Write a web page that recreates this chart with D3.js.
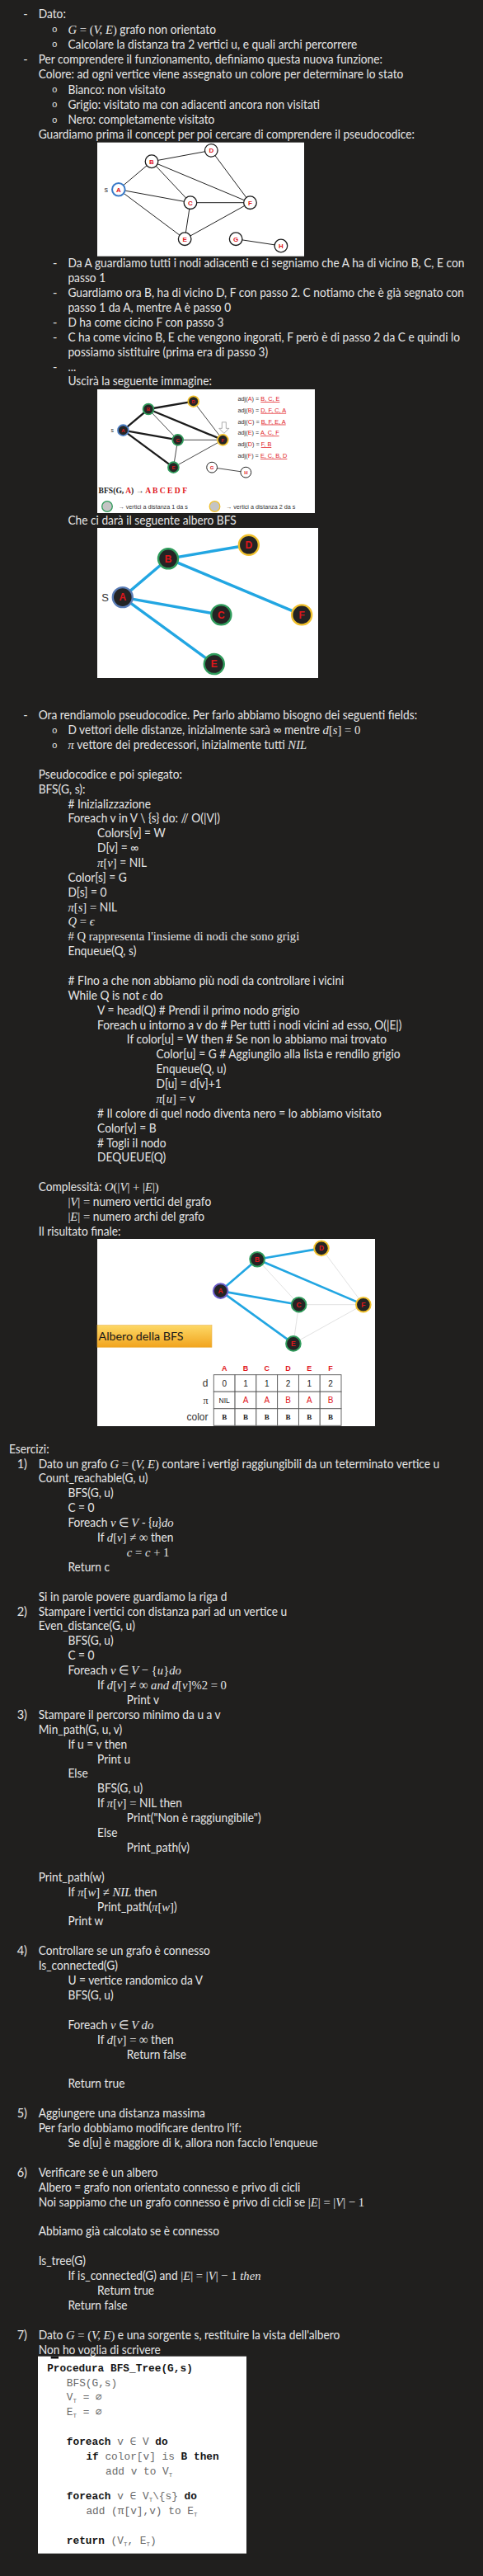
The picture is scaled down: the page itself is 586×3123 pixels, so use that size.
<!DOCTYPE html>
<html>
<head>
<meta charset="utf-8">
<script src="https://cdn.jsdelivr.net/npm/d3@7/dist/d3.min.js"></script>
<style>
  html, body { margin: 0; padding: 0; background: #201f1e; }
  svg { display: block; }
  text, tspan { white-space: pre; }
</style>
</head>
<body>
<div id="page"></div>
<script>
// graph of the example
const vertices = ["A", "B", "C", "D", "E", "F", "G", "H"]
const graphEdges = [["A","B"],["A","C"],["A","E"],["B","C"],["B","D"],["B","F"],["C","E"],["C","F"],["D","F"],["E","F"],["G","H"]]
const treeEdges = [["A","B"],["A","C"],["A","E"],["B","D"],["B","F"]]
const bfsOrder = ["A", "B", "C", "E", "D", "F"]
const adjacency = [["A", ["B","C","E"]], ["B", ["D","F","C","A"]], ["C", ["B","F","E","A"]], ["E", ["A","C","F"]], ["D", ["F","B"]], ["F", ["E","C","B","D"]]]

// final table (columns A..F)
const tableCols = ["A", "B", "C", "D", "E", "F"]
const tableRows = ["d", "π", "color"]
const distance = [0, 1, 1, 2, 1, 2]
const parent = ["NIL", "A", "A", "B", "A", "B"]
const colour = ["B", "B", "B", "B", "B", "B"]

// where the nodes sit inside each picture (percent of the picture)
const layoutConcept = {A:[10.3,41.3], B:[26.3,16.7], C:[45,52.9], D:[55.1,7], E:[42.3,84.8], F:[73.9,52.9], G:[67,84.8], H:[88.8,90.8]}
const layoutVisit = {A:[11.9,33.1], B:[23.5,16], C:[37,40.9], D:[44.2,9.8], E:[35,63.1], F:[57.7,40.9], G:[52.7,63.1], H:[68.3,67.1]}
const layoutTree = {A:[11.5,46.2], B:[32.1,20.5], C:[56.1,57.9], D:[68.6,11.4], E:[52.9,90.7], F:[92.6,57.9]}
const layoutFinal = {A:[44.4,27.8], B:[57.6,10.9], C:[72.6,35.1], D:[80.7,5], E:[70.6,55.9], F:[95.8,35.1]}

// notes: [indent, marker, text]   $..$ = math italic, §..§ = math upright
const introLines = [
  [0, "-", "Dato:"],
  [1, "o", "$G$§ = (§$V, E$§)§ grafo non orientato"],
  [1, "o", "Calcolare la distanza tra 2 vertici u, e quali archi percorrere"],
  [0, "-", "Per comprendere il funzionamento, definiamo questa nuova funzione:"],
  [0, "", "Colore: ad ogni vertice viene assegnato un colore per determinare lo stato"],
  [1, "o", "Bianco: non visitato"],
  [1, "o", "Grigio: visitato ma con adiacenti ancora non visitati"],
  [1, "o", "Nero: completamente visitato"],
  [0, "", "Guardiamo prima il concept per poi cercare di comprendere il pseudocodice:"]
]
const stepLines = [
  [1, "-", "Da A guardiamo tutti i nodi adiacenti e ci segniamo che A ha di vicino B, C, E con"],
  [1, "", "passo 1"],
  [1, "-", "Guardiamo ora B, ha di vicino D, F con passo 2. C notiamo che è già segnato con"],
  [1, "", "passo 1 da A, mentre A è passo 0"],
  [1, "-", "D ha come cicino F con passo 3"],
  [1, "-", "C ha come vicino B, E che vengono ingorati, F però è di passo 2 da C e quindi lo"],
  [1, "", "possiamo sistituire (prima era di passo 3)"],
  [1, "-", "..."],
  [1, "", "Uscirà la seguente immagine:"]
]
const treeCaption = [[1, "", "Che ci darà il seguente albero BFS"]]
const pseudoLines = [
  [0, "-", "Ora rendiamolo pseudocodice. Per farlo abbiamo bisogno dei seguenti fields:"],
  [1, "o", "D vettori delle distanze, inizialmente sarà ∞ mentre $d$§[§$s$§] = 0§"],
  [1, "o", "$π$ vettore dei predecessori, inizialmente tutti $NIL$"],
  null,
  [0, "", "Pseudocodice e poi spiegato:"],
  [0, "", "BFS(G, s):"],
  [1, "", "# Inizializzazione"],
  [1, "", "Foreach v in V \\ {s} do: // O(|V|)"],
  [2, "", "Colors[v] = W"],
  [2, "", "D[v] = ∞"],
  [2, "", "$π$§[§$v$§]§ = NIL"],
  [1, "", "Color[s] = G"],
  [1, "", "D[s] = 0"],
  [1, "", "$π$§[§$s$§] =§ NIL"],
  [1, "", "$Q$§ = §$ϵ$"],
  [1, "", "§# Q rappresenta l'insieme di nodi che sono grigi§"],
  [1, "", "Enqueue(Q, s)"],
  null,
  [1, "", "# FIno a che non abbiamo più nodi da controllare i vicini"],
  [1, "", "While Q is not $ϵ$ do"],
  [2, "", "V = head(Q) # Prendi il primo nodo grigio"],
  [2, "", "Foreach u intorno a v do # Per tutti i nodi vicini ad esso, O(|E|)"],
  [3, "", "If color[u] = W then # Se non lo abbiamo mai trovato"],
  [4, "", "Color[u] = G # Aggiungilo alla lista e rendilo grigio"],
  [4, "", "Enqueue(Q, u)"],
  [4, "", "D[u] = d[v]+1"],
  [4, "", "$π$§[§$u$§] = §v"],
  [2, "", "# Il colore di quel nodo diventa nero = lo abbiamo visitato"],
  [2, "", "Color[v] = B"],
  [2, "", "# Togli il nodo"],
  [2, "", "DEQUEUE(Q)"],
  null,
  [0, "", "Complessità: $O$§(|§$V$§| + |§$E$§|)§"],
  [1, "", "§|§$V$§| =§ numero vertici del grafo"],
  [1, "", "§|§$E$§| =§ numero archi del grafo"],
  [0, "", "Il risultato finale:"]
]
const exerciseLines = [
  [-1, "", "Esercizi:"],
  [0, "1)", "Dato un grafo $G$§ = (§$V, E$§)§ contare i vertigi raggiungibili da un teterminato vertice u"],
  [0, "", "Count_reachable(G, u)"],
  [1, "", "BFS(G, u)"],
  [1, "", "C = 0"],
  [1, "", "Foreach $v$ ∈ $V$ - {$u$}$do$"],
  [2, "", "If $d$§[§$v$§] ≠ ∞§ then"],
  [3, "", "$c$§ = §$c$§ + 1§"],
  [1, "", "Return c"],
  null,
  [0, "", "Si in parole povere guardiamo la riga d"],
  [0, "2)", "Stampare i vertici con distanza pari ad un vertice u"],
  [0, "", "Even_distance(G, u)"],
  [1, "", "BFS(G, u)"],
  [1, "", "C = 0"],
  [1, "", "Foreach $v$ ∈ $V$§ − {§$u$§}§$do$"],
  [2, "", "If $d$§[§$v$§] ≠ ∞ §$and d$§[§$v$§]%2 = 0§"],
  [3, "", "Print v"],
  [0, "3)", "Stampare il percorso minimo da u a v"],
  [0, "", "Min_path(G, u, v)"],
  [1, "", "If u = v then"],
  [2, "", "Print u"],
  [1, "", "Else"],
  [2, "", "BFS(G, u)"],
  [2, "", "If $π$§[§$v$§] =§ NIL then"],
  [3, "", "Print(\"Non è raggiungibile\")"],
  [2, "", "Else"],
  [3, "", "Print_path(v)"],
  null,
  [0, "", "Print_path(w)"],
  [1, "", "If $π$§[§$w$§] ≠ §$NIL$ then"],
  [2, "", "Print_path($π$§[§$w$§]§)"],
  [1, "", "Print w"],
  null,
  [0, "4)", "Controllare se un grafo è connesso"],
  [0, "", "Is_connected(G)"],
  [1, "", "U = vertice randomico da V"],
  [1, "", "BFS(G, u)"],
  null,
  [1, "", "Foreach $v$ ∈ $V do$"],
  [2, "", "If $d$§[§$v$§] = ∞§ then"],
  [3, "", "Return false"],
  null,
  [1, "", "Return true"],
  null,
  [0, "5)", "Aggiungere una distanza massima"],
  [0, "", "Per farlo dobbiamo modificare dentro l'if:"],
  [1, "", "Se d[u] è maggiore di k, allora non faccio l'enqueue"],
  null,
  [0, "6)", "Verificare se è un albero"],
  [0, "", "Albero = grafo non orientato connesso e privo di cicli"],
  [0, "", "Noi sappiamo che un grafo connesso è privo di cicli se §|§$E$§| = |§$V$§| − 1§"],
  null,
  [0, "", "Abbiamo già calcolato se è connesso"],
  null,
  [0, "", "Is_tree(G)"],
  [1, "", "If is_connected(G) and §|§$E$§| = |§$V$§| − 1 §$then$"],
  [2, "", "Return true"],
  [1, "", "Return false"],
  null,
  [0, "7)", "Dato $G$§ = (§$V, E$§)§ e una sorgente s, restituire la vista dell'albero"],
  [0, "", "Non ho voglia di scrivere"]
]
// *..* = bold, _T = subscript T
const codeLines = [
  [0, "*Procedura BFS_Tree(G,s)*"],
  [1, "BFS(G,s)"],
  [1, "V_T = ∅"],
  [1, "E_T = ∅"],
  [1, "*foreach* v ∈ V *do*"],
  [2, "*if* color[v] is *B then*"],
  [3, "add v to V_T"],
  [1, "*foreach* v ∈ V_T\\{s} *do*"],
  [2, "add (π[v],v) to E_T"],
  [1, "*return* (V_T, E_T)"]
]

const SANS = "Lato, 'Open Sans', sans-serif"
const SERIF = "'Liberation Serif', 'DejaVu Serif', serif"
const ARIAL = "'Liberation Sans', Arial, sans-serif"
const MONO = "'Liberation Mono', 'DejaVu Sans Mono', monospace"
const RED = "#e0161b"
const INK = "#e6e6e6"

const svg = d3.select("#page").append("svg")
    .attr("width", 586).attr("height", 3123)
    .style("background", "#201f1e")

const indentX = d3.scaleLinear().domain([0, 1]).range([46.7, 82.4])
const lineX = d => d[0] < 0 ? 11 : indentX(d[0])
const ring = d3.scaleOrdinal().domain([0, 1, 2]).range(["#4a7cc0", "#2f9b5b", "#f0c02c"])
const isTree = e => treeEdges.some(t => t[0] === e[0] && t[1] === e[1])
const level = v => {
    let i = tableCols.indexOf(v)
    return i < 0 ? null : distance[i]
}

function addRich(text, str) {
    str.split(/(\$[^$]*\$|§[^§]*§)/).filter(s => s !== "").forEach(p => {
        let math = p[0] === "$", upright = p[0] === "§"
        let ts = text.append("tspan").text(math || upright ? p.slice(1, -1) : p)
        if (math || upright) ts.attr("font-family", SERIF).attr("font-size", 15.5)
        if (math) ts.attr("font-style", "italic")
    })
}

function drawBlock(lines, y0, lh) {
    const y = d3.scaleLinear().domain([0, 1]).range([y0, y0 + lh])
    const rows = lines.map((d, i) => ({d, i})).filter(r => r.d)
    const g = svg.append("g")
        .attr("font-family", SANS).attr("font-size", 14.5).attr("fill", INK)

    g.selectAll("text.line").data(rows).join("text")
        .attr("class", "line")
        .attr("x", r => lineX(r.d))
        .attr("y", r => y(r.i) + 5)
        .each(function(r) { addRich(d3.select(this), r.d[2]) })

    g.selectAll("text.marker").data(rows.filter(r => r.d[1])).join("text")
        .attr("class", "marker")
        .attr("x", r => r.d[1] === "o" ? indentX(r.d[0]) - 19.5 : (r.d[1] === "-" ? indentX(r.d[0]) - 18.5 : indentX(r.d[0]) - 26))
        .attr("y", r => y(r.i) + (r.d[1] === "o" ? 3.5 : 5))
        .attr("font-family", r => r.d[1] === "o" ? MONO : SANS)
        .attr("font-size", r => r.d[1] === "o" ? 11 : 14.5)
        .text(r => r.d[1])
}

function drawGraph(box, layout, o) {
    const g = svg.append("g")
    g.append("rect").attr("x", box.x).attr("y", box.y)
        .attr("width", box.w).attr("height", box.h).attr("fill", "#fff")
    const x = d3.scaleLinear().domain([0, 100]).range([box.x, box.x + box.w])
    const y = d3.scaleLinear().domain([0, 100]).range([box.y, box.y + box.h])
    const nodes = vertices.filter(v => layout[v])
    const edges = o.edges.filter(e => layout[e[0]] && layout[e[1]])

    g.selectAll("line").data(edges).join("line")
        .attr("x1", e => x(layout[e[0]][0])).attr("y1", e => y(layout[e[0]][1]))
        .attr("x2", e => x(layout[e[1]][0])).attr("y2", e => y(layout[e[1]][1]))
        .attr("stroke", o.edgeStroke).attr("stroke-width", o.edgeWidth)
        .attr("stroke-linecap", "round")

    const node = g.selectAll("g.node").data(nodes).join("g")
        .attr("class", "node")
        .attr("transform", v => `translate(${x(layout[v][0])},${y(layout[v][1])})`)
    node.append("circle").attr("r", o.r)
        .attr("fill", o.fill).attr("stroke", o.stroke).attr("stroke-width", o.sw)
    node.append("text").text(v => v)
        .attr("text-anchor", "middle").attr("dy", "0.36em")
        .attr("fill", RED).attr("font-family", ARIAL).attr("font-weight", "bold")
        .attr("font-size", o.fs)
    if (o.sLabel) {
        g.append("text").text(o.sLabel)
            .attr("x", x(layout.A[0]) - o.r - 5).attr("y", y(layout.A[1]))
            .attr("dy", "0.35em").attr("text-anchor", "end")
            .attr("font-family", ARIAL).attr("font-size", o.fs + 1).attr("fill", "#333")
    }
    return {g, x, y}
}

// ---------- text ----------
drawBlock(introLines, 17.3, 18.25)
drawBlock(stepLines, 319.3, 17.9)
drawBlock(treeCaption, 631, 17.9)
drawBlock(pseudoLines, 867.3, 17.87)
drawBlock(exerciseLines, 1756.7, 17.9)

// Lato is wider than the original Calibri: squeeze the lines so that a few
// known lines end where they end in the picture
{
    const known = [[stepLines[0], 557], [introLines[3], 463.4], [pseudoLines[21], 490.6], [exerciseLines[1], 537]]
    const ratios = known.map(([line, right]) => {
        let node = d3.selectAll("text.line").filter(r => r.d === line).node()
        return (right - lineX(line)) / node.getComputedTextLength()
    })
    const k = d3.mean(ratios)
    d3.selectAll("text.line")
        .attr("transform", r => `translate(${lineX(r.d)},0) scale(${k},1) translate(${-lineX(r.d)},0)`)
}

// ---------- picture 1: the concept graph ----------
drawGraph({x: 118, y: 172.7, w: 251, h: 138}, layoutConcept, {
    edges: graphEdges, edgeStroke: "#222", edgeWidth: 1,
    r: 7.8, fill: "#fff",
    stroke: v => v === "A" ? "#3b7bc8" : "#1a1a1a",
    sw: v => v === "A" ? 2 : 1.3, fs: 8, sLabel: "s"
})

// ---------- picture 2: visited graph with adjacency ----------
const visit = drawGraph({x: 118, y: 472, w: 264, h: 150}, layoutVisit, {
    edges: graphEdges,
    edgeStroke: "#1b1b1b",
    edgeWidth: e => isTree(e) ? 2.3 : 0.8,
    r: 6.4,
    fill: v => level(v) === null ? "#fff" : "#262626",
    stroke: v => level(v) === null ? "#222" : ring(level(v)),
    sw: v => level(v) === null ? 1 : 1.8, fs: 6, sLabel: "s"
})
{
    let fx = visit.x(layoutVisit.F[0]), fy = visit.y(layoutVisit.F[1])
    let ax = fx + 1.5, top = fy - 21.5
    visit.g.append("path")
        .attr("d", `M${ax - 2.5},${top} h5 v7.5 h3.5 l-6,6 l-6,-6 h3.5 z`)
        .attr("fill", "#fff").attr("stroke", "#999").attr("stroke-width", 0.8)

    const ay = d3.scaleBand().domain(adjacency.map(d => d[0])).range([476.5, 559.3])
    const adj = visit.g.selectAll("text.adj").data(adjacency).join("text")
        .attr("class", "adj")
        .attr("x", 288.5).attr("y", d => ay(d[0]) + ay.bandwidth() / 2 + 2.6)
        .attr("font-family", ARIAL).attr("font-size", 7.3).attr("fill", "#333")
    adj.append("tspan").text("adj(")
    adj.append("tspan").text(d => d[0]).attr("fill", RED)
    adj.append("tspan").text(") = ")
    adj.append("tspan").text(d => d[1].join(", ")).attr("fill", RED).attr("text-decoration", "underline")

    const bfs = visit.g.append("text").attr("x", 119.6).attr("y", 598.4)
        .attr("font-family", SERIF).attr("font-weight", "bold").attr("font-size", 9.6).attr("fill", "#222")
    bfs.append("tspan").text("BFS(G, ")
    bfs.append("tspan").text("A").attr("fill", RED)
    bfs.append("tspan").text(") → ")
    bfs.append("tspan").text(bfsOrder.join(" ")).attr("fill", RED)

    const legend = visit.g.selectAll("g.legend").data([1, 2]).join("g")
        .attr("class", "legend")
        .attr("transform", d => `translate(${d === 1 ? 130 : 260.5},614)`)
    legend.append("circle").attr("r", 6.3).attr("fill", "#c4c4c4")
        .attr("stroke", d => ring(d)).attr("stroke-width", 1.3)
    legend.append("text").attr("x", 13.5).attr("dy", "0.35em")
        .attr("font-family", ARIAL).attr("font-size", 7.2).attr("fill", "#333")
        .text(d => `→ vertici a distanza ${d} da s`)
}

// ---------- picture 3: the BFS tree ----------
drawGraph({x: 118, y: 640, w: 268, h: 182}, layoutTree, {
    edges: treeEdges, edgeStroke: "#22a6e2", edgeWidth: 3.4,
    r: 12, fill: "#242424",
    stroke: v => v === "A" ? "#5a7db6" : ring(level(v)),
    sw: 2.4, fs: 12, sLabel: "S"
})

// ---------- picture 4: final result with table ----------
const fin = drawGraph({x: 118, y: 1502, w: 337, h: 227}, layoutFinal, {
    edges: graphEdges,
    edgeStroke: e => isTree(e) ? "#22a6e2" : "#e2e2e2",
    edgeWidth: e => isTree(e) ? 2.6 : 1,
    r: 8.8, fill: "#242424",
    stroke: v => v === "A" ? "#6a5cc8" : ring(level(v)),
    sw: 2, fs: 8.5
})
{
    const grad = svg.append("defs").append("linearGradient")
        .attr("id", "orange").attr("x1", 0).attr("y1", 0).attr("x2", 0).attr("y2", 1)
    grad.append("stop").attr("offset", 0).attr("stop-color", "#fdd866")
    grad.append("stop").attr("offset", 1).attr("stop-color", "#f1a41e")
    fin.g.append("rect").attr("x", 118).attr("y", 1606.7).attr("width", 139).attr("height", 26.6)
        .attr("fill", "url(#orange)").attr("stroke", "#e9b14a").attr("stroke-width", 0.6)
    fin.g.append("text").attr("x", 119.6).attr("y", 1625.4)
        .attr("font-family", SANS).attr("font-size", 13.5).attr("fill", "#1a1a1a")
        .attr("textLength", 103).attr("lengthAdjust", "spacingAndGlyphs")
        .text("Albero della BFS")

    const cx = d3.scaleBand().domain(tableCols).range([259.3, 414])
    const ry = d3.scaleBand().domain(tableRows).range([1666.7, 1728.3])
    const cells = []
    tableRows.forEach(r => tableCols.forEach((c, i) => {
        let v = r === "d" ? distance[i] : (r === "π" ? parent[i] : colour[i])
        cells.push({r, c, v})
    }))
    fin.g.selectAll("rect.cell").data(cells).join("rect")
        .attr("class", "cell")
        .attr("x", d => cx(d.c)).attr("y", d => ry(d.r))
        .attr("width", cx.bandwidth()).attr("height", ry.bandwidth())
        .attr("fill", "#fff").attr("stroke", "#5a5a5a").attr("stroke-width", 0.9)
    fin.g.selectAll("text.cell").data(cells).join("text")
        .attr("class", "cell")
        .attr("x", d => cx(d.c) + cx.bandwidth() / 2)
        .attr("y", d => ry(d.r) + ry.bandwidth() / 2)
        .attr("dy", "0.36em").attr("text-anchor", "middle")
        .attr("font-family", d => d.r === "color" ? SERIF : ARIAL)
        .attr("font-weight", d => d.r === "color" ? "bold" : "normal")
        .attr("font-size", d => d.v === "NIL" ? 8.5 : (d.r === "color" ? 9 : 10))
        .attr("fill", d => d.r === "π" && d.v !== "NIL" ? RED : "#222")
        .text(d => d.v)
    fin.g.selectAll("text.head").data(tableCols).join("text")
        .attr("class", "head")
        .attr("x", c => cx(c) + cx.bandwidth() / 2).attr("y", 1658.7)
        .attr("dy", "0.36em").attr("text-anchor", "middle")
        .attr("font-family", ARIAL).attr("font-weight", "bold").attr("font-size", 9).attr("fill", RED)
        .text(c => c)
    fin.g.selectAll("text.rowlab").data(tableRows).join("text")
        .attr("class", "rowlab")
        .attr("x", 252.5).attr("y", r => ry(r) + ry.bandwidth() / 2)
        .attr("dy", "0.36em").attr("text-anchor", "end")
        .attr("font-family", r => r === "π" ? SERIF : ARIAL)
        .attr("font-size", 12).attr("fill", "#333")
        .text(r => r)
}

// ---------- BFS_Tree procedure box ----------
{
    const g = svg.append("g")
    g.append("rect").attr("x", 46).attr("y", 2856.7).attr("width", 253).attr("height", 239).attr("fill", "#fff")
    g.append("rect").attr("x", 61.7).attr("y", 2856.7).attr("width", 9.3).attr("height", 2.8).attr("fill", "#111")
    const slot = [0, 1, 2, 3, 5, 6, 7, 8.7, 9.7, 11.7]
    const cy = d3.scaleLinear().domain([0, 1]).range([2870.7, 2888.55])
    const cxs = d3.scaleLinear().domain([0, 1]).range([57.2, 80.8])
    g.selectAll("text").data(codeLines).join("text")
        .attr("x", d => cxs(d[0])).attr("y", (d, i) => cy(slot[i]) + 4)
        .attr("font-family", MONO).attr("font-size", 12.8).attr("fill", "#6a6a6a")
        .each(function(d) {
            const t = d3.select(this)
            let down = false
            d[1].split(/(\*[^*]*\*|_T)/).filter(s => s !== "").forEach(p => {
                let ts = t.append("tspan")
                if (p === "_T") {
                    ts.text("T").attr("font-size", 7.5).attr("dy", 3)
                    down = true
                    return
                }
                if (down) { ts.attr("dy", -3); down = false }
                if (p[0] === "*") ts.text(p.slice(1, -1)).attr("font-weight", "bold").attr("fill", "#151515")
                else ts.text(p)
            })
        })
}
</script>
</body>
</html>
